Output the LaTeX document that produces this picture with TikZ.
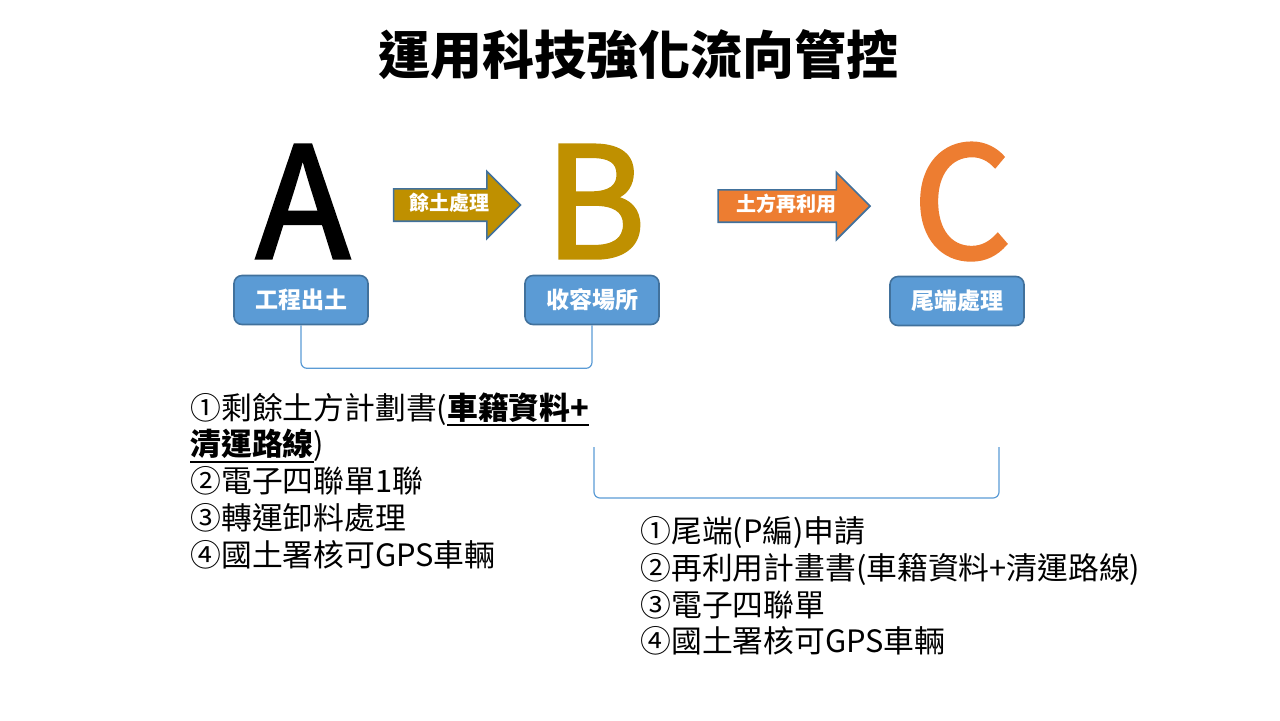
\documentclass[tikz,border=0pt]{standalone}
\usepackage{fontspec}
\setmainfont{Noto Sans CJK TC}
\newfontfamily\letterfont[FakeBold=2.2]{Noto Sans CJK TC}
\usetikzlibrary{shapes.arrows}
\definecolor{gold}{HTML}{BF9000}
\definecolor{orangeC}{HTML}{ED7D31}
\definecolor{boxblue}{HTML}{5B9BD5}
\definecolor{edgeblue}{HTML}{41719C}
\newcommand{\ulbox}[1]{\setbox0\hbox{\textbf{#1}}\rlap{\rule[-3.5pt]{\wd0}{1pt}}\box0}
\tikzset{
    title/.style={font=\bfseries\fontsize{26}{30}\selectfont},
    letter/.style={anchor=base, inner sep=0pt, font=\letterfont\fontsize{77}{77}\selectfont},
    flow/.style={single arrow, draw=edgeblue, line width=0.8pt, text=white,
        font=\bfseries\fontsize{10}{12}\selectfont, text height=7pt, text depth=2pt,
        inner ysep=3.2pt, single arrow head extend=8.75pt, minimum height=63.5pt},
    box/.style={draw=edgeblue, fill=boxblue, line width=0.8pt, rounded corners=4pt,
        text=white, font=\bfseries\fontsize{11.5}{14}\selectfont,
        minimum width=67pt, minimum height=24.5pt},
    bracket/.style={draw=boxblue, line width=0.6pt, rounded corners=3pt},
    list/.style={anchor=north west, align=left, inner sep=0pt,
        font=\fontsize{15.4}{18.4}\selectfont}
}
\begin{document}
\begin{tikzpicture}[x=0.5pt, y=-0.5pt]
    \useasboundingbox (0,0) rectangle (1280,720);
    \node[title] (T) at (638,55) {運用科技強化流向管控};

    \node[letter] (A) at (303,258) {A};
    \node[letter, text=gold] (B) at (595,258) {B};
    \node[letter, text=orangeC] (C) at (962,258) {C};

    \node[flow, fill=gold] (AB) at (449,205) {餘土處理};
    \node[flow, fill=orangeC, minimum height=76pt] (BC) at (786,206) {土方再利用};

    \node[box] (GC) at (301,300) {工程出土};
    \node[box] (SR) at (592,300) {收容場所};
    \node[box] (WD) at (957,301) {尾端處理};

    \draw[bracket] (GC.south) -- ++(0,43) -| (SR.south);
    \coordinate (L2) at (594,447);
    \coordinate (R2) at (999,447);
    \draw[bracket] (L2) -- ++(0,51) -| (R2);

    \node[list] (N1) at (190,392) {①剩餘土方計劃書(\ulbox{車籍資料+}\\
        \ulbox{清運路線})\\
        ②電子四聯單1聯\\
        ③轉運卸料處理\\
        ④國土署核可GPS車輛};
    \node[list] (N2) at (640,516) {①尾端(P編)申請\\
        ②再利用計畫書(車籍資料+清運路線)\\
        ③電子四聯單\\
        ④國土署核可GPS車輛};
\end{tikzpicture}
\end{document}
